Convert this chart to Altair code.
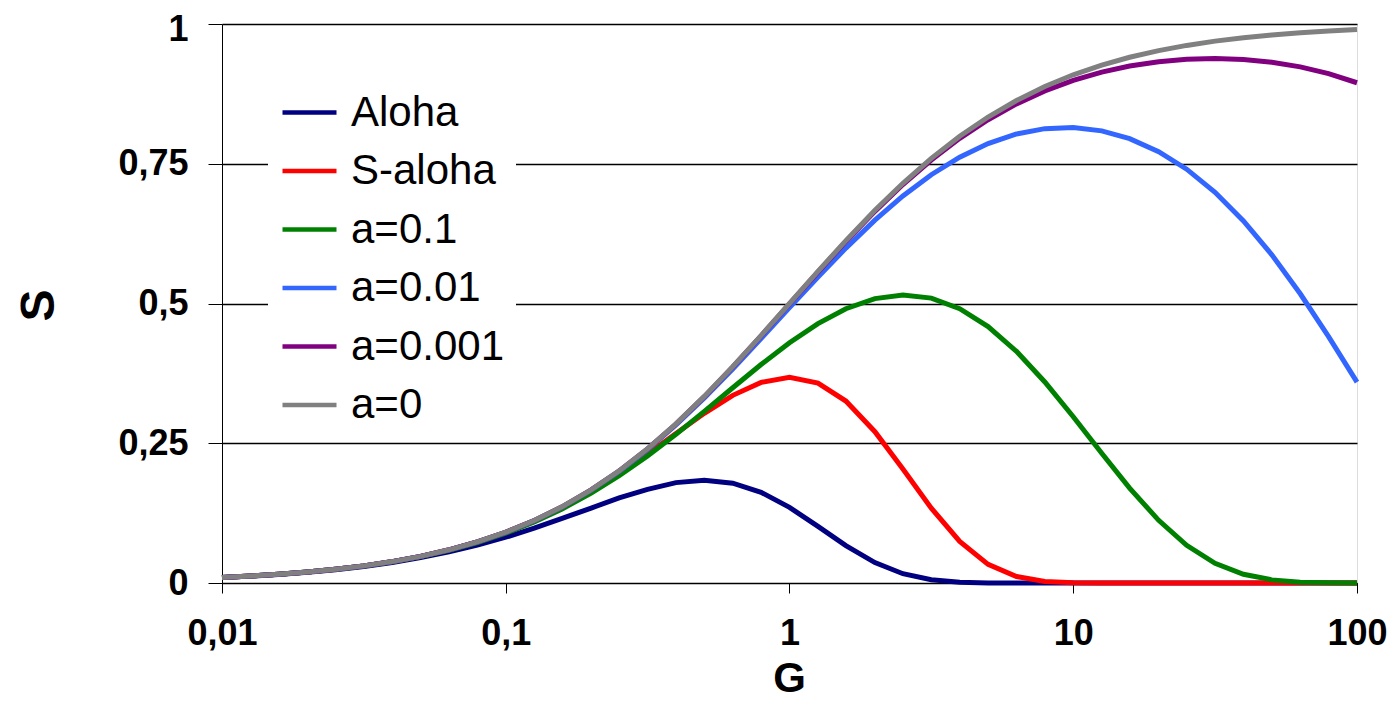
import altair as alt
import pandas as pd

G = [0.01, 0.0126, 0.0158, 0.02, 0.0251, 0.0316, 0.0398, 0.0501, 0.0631, 0.0794,
     0.1, 0.126, 0.158, 0.2, 0.251, 0.316, 0.398, 0.501, 0.631, 0.794,
     1, 1.26, 1.58, 2, 2.51, 3.16, 3.98, 5.01, 6.31, 7.94,
     10, 12.6, 15.8, 20, 25.1, 31.6, 39.8, 50.1, 63.1, 79.4, 100]

aloha = [0.0098, 0.0123, 0.0153, 0.0192, 0.0239, 0.0297, 0.0368, 0.0454, 0.0557, 0.0678,
         0.0819, 0.0980, 0.1155, 0.1341, 0.1524, 0.1676, 0.1796, 0.1839, 0.1786, 0.1623,
         0.1353, 0.1014, 0.0670, 0.0366, 0.0166, 0.0057, 0.0014, 0.0002, 0.0, 0.0,
         0.0, 0.0, 0.0, 0.0, 0.0, 0.0, 0.0, 0.0, 0.0, 0.0, 0.0]

s_aloha = [0.0099, 0.0124, 0.0156, 0.0196, 0.0245, 0.0306, 0.0382, 0.0477, 0.0592, 0.0733,
           0.0905, 0.1110, 0.1349, 0.1637, 0.1966, 0.2307, 0.2673, 0.3036, 0.3357, 0.3589,
           0.3679, 0.3575, 0.3255, 0.2707, 0.2041, 0.1340, 0.0744, 0.0334, 0.0115, 0.0028,
           0.0005, 0.0, 0.0, 0.0, 0.0, 0.0, 0.0, 0.0, 0.0, 0.0, 0.0]

a_0_1 = [0.0099, 0.0124, 0.0155, 0.0195, 0.0244, 0.0304, 0.0380, 0.0472, 0.0586, 0.0724,
         0.0892, 0.1093, 0.1325, 0.1607, 0.1918, 0.2271, 0.2659, 0.3070, 0.3493, 0.3908,
         0.4299, 0.4641, 0.4906, 0.5087, 0.5153, 0.5096, 0.4907, 0.4587, 0.4143, 0.3597,
         0.2974, 0.2320, 0.1698, 0.1121, 0.0675, 0.0353, 0.0156, 0.0056, 0.0015, 0.0003, 0.0]

a_0_01 = [0.0099, 0.0124, 0.0155, 0.0196, 0.0245, 0.0306, 0.0382, 0.0477, 0.0593, 0.0734,
          0.0907, 0.1115, 0.1358, 0.1661, 0.1997, 0.2388, 0.2827, 0.3310, 0.3830, 0.4371,
          0.4926, 0.5475, 0.5991, 0.6491, 0.6924, 0.7304, 0.7618, 0.7862, 0.8033, 0.8128,
          0.8148, 0.8088, 0.7950, 0.7717, 0.7403, 0.6990, 0.6478, 0.5871, 0.5174, 0.4407, 0.3594]

a_0_001 = [0.0099, 0.0124, 0.0156, 0.0196, 0.0245, 0.0306, 0.0383, 0.0477, 0.0594, 0.0735,
           0.0908, 0.1118, 0.1363, 0.1665, 0.2004, 0.2399, 0.2844, 0.3334, 0.3864, 0.4420,
           0.4993, 0.5563, 0.6111, 0.6649, 0.7128, 0.7567, 0.7954, 0.8288, 0.8570, 0.8803,
           0.8992, 0.9140, 0.9248, 0.9326, 0.9370, 0.9383, 0.9365, 0.9316, 0.9233, 0.9112, 0.8949]

a_0 = [0.0099, 0.0124, 0.0156, 0.0196, 0.0245, 0.0306, 0.0383, 0.0477, 0.0594, 0.0736,
       0.0909, 0.1119, 0.1364, 0.1667, 0.2006, 0.2401, 0.2847, 0.3338, 0.3869, 0.4426,
       0.5000, 0.5575, 0.6124, 0.6667, 0.7151, 0.7596, 0.7992, 0.8336, 0.8632, 0.8881,
       0.9091, 0.9265, 0.9405, 0.9524, 0.9617, 0.9694, 0.9755, 0.9804, 0.9844, 0.9876, 0.9901]

series_names = ["Aloha", "S-aloha", "a=0.1", "a=0.01", "a=0.001", "a=0"]
series_values = [aloha, s_aloha, a_0_1, a_0_01, a_0_001, a_0]
series_colors = ["#000080", "#FF0000", "#008000", "#3366FF", "#800080", "#808080"]

x_ticks = [0.01, 0.1, 1, 10, 100]
y_ticks = [0, 0.25, 0.5, 0.75, 1]

rows = []
for k, (name, vals) in enumerate(zip(series_names, series_values)):
    for g, s in zip(G, vals):
        rows.append({"G": g, "S": s, "series": name, "k": k})
df = pd.DataFrame(rows)

FONT = "Liberation Sans"

chart = alt.Chart(df).mark_line(strokeWidth=5).encode(
    x=alt.X("G:Q",
            scale=alt.Scale(type="log", domain=[0.01, 100], nice=False),
            axis=alt.Axis(values=x_ticks, title="G", grid=False,
                          labelExpr="replace(toString(datum.value), '.', ',')",
                          labelFont=FONT, labelFontSize=36, labelFontWeight="bold",
                          labelColor="black", labelPadding=23, labelFlush=False,
                          tickSize=10, tickColor="black", domainColor="black",
                          titleFont=FONT, titleFontSize=42, titleFontWeight="bold",
                          titleColor="black", titleX=567, titleY=108,
                          titleBaseline="alphabetic", titleAlign="center")),
    y=alt.Y("S:Q",
            scale=alt.Scale(domain=[0, 1], nice=False),
            axis=alt.Axis(values=y_ticks, title="S", grid=True,
                          gridColor="black", gridWidth=1.3, gridOpacity=1,
                          labelExpr="replace(toString(datum.value), '.', ',')",
                          labelFont=FONT, labelFontSize=36, labelFontWeight="bold",
                          labelColor="black", labelPadding=20,
                          labelOffset={"condition": {"test": "datum.value == 1", "value": 5},
                                       "value": 0},
                          tickSize=14, tickColor="black", domainColor="black",
                          titleFont=FONT, titleFontSize=48, titleFontWeight="bold",
                          titleColor="black", titleAngle=270, titleX=-169, titleY=281,
                          titleBaseline="alphabetic", titleAlign="center")),
    color=alt.Color("series:N",
                    scale=alt.Scale(domain=series_names, range=series_colors),
                    sort=series_names,
                    legend=alt.Legend(title=None, orient="none", legendX=46, legendY=47,
                                      padding=12, fillColor="white",
                                      symbolType="stroke", symbolSize=2916,
                                      symbolStrokeWidth=4.5, rowPadding=7.5,
                                      labelFont=FONT, labelFontSize=42,
                                      labelColor="black", labelOffset=12,
                                      labelLimit=400)),
    order=alt.Order("k:Q"),
    detail="series:N",
).properties(
    width=1135,
    height=559,
    autosize=alt.AutoSizeParams(type="none"),
    padding={"left": 214, "top": 16, "right": 34, "bottom": 117},
).configure_view(
    stroke="#999999", strokeWidth=1
).configure(
    background="white"
)

chart.save("out.html", embed_options={"renderer": "svg", "actions": False})
